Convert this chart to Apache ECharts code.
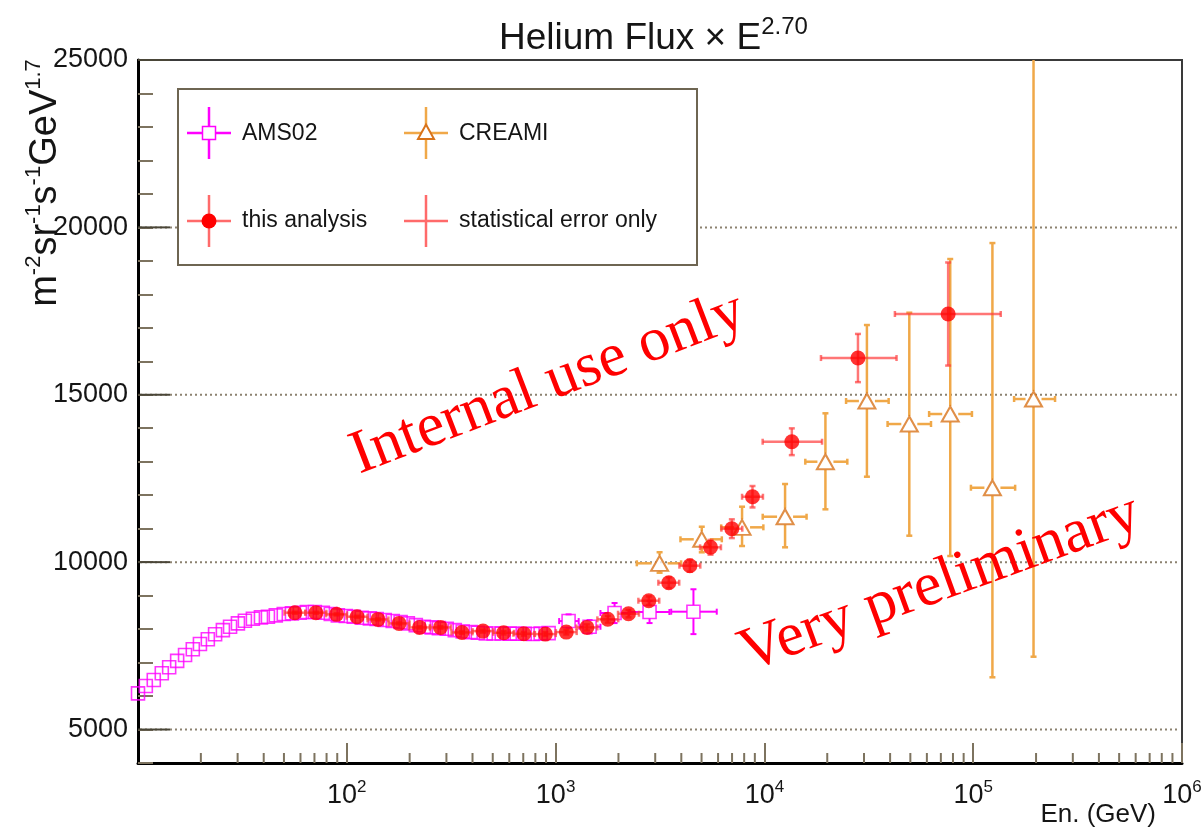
<!DOCTYPE html>
<html><head><meta charset="utf-8">
<script src="https://cdn.jsdelivr.net/npm/echarts@6/dist/echarts.min.js"></script>
<style>html,body{margin:0;padding:0;background:#fff}#c{width:1204px;height:832px}</style>
</head><body><div id="c"></div>
<script>
// ---------------- data ----------------
const amsEnergy = [10.0, 10.9, 11.9, 13.0, 14.1, 15.4, 16.8, 18.3, 19.8, 21.6, 23.4, 25.5, 27.6, 30.1, 32.5, 35.5, 38.8, 41.9, 45.7, 49.9,
  54.6, 59.6, 64.4, 70.3, 76.8, 83.8, 90.6, 98.9, 108, 118, 129, 139, 152, 166, 181, 196, 214, 234, 255, 276,
  301, 329, 359, 392, 424, 463, 505, 552, 603, 651, 711, 776, 848, 926, 1154, 1455, 1916, 2818, 4573];
const amsFlux = [6080, 6300, 6480, 6680, 6860, 7050, 7225, 7400, 7555, 7695, 7845, 7970, 8070, 8170, 8250, 8310, 8350, 8370, 8410, 8450,
  8470, 8490, 8510, 8510, 8490, 8450, 8410, 8390, 8370, 8340, 8320, 8300, 8270, 8240, 8210, 8170, 8120, 8070, 8050, 8030,
  8010, 7970, 7930, 7910, 7890, 7870, 7870, 7870, 7865, 7860, 7860, 7855, 7865, 7880, 8240, 8070, 8480, 8510, 8520];
const amsFluxErr = [10, 10, 10, 10, 10, 10, 10, 10, 10, 10, 10, 10, 10, 10, 10, 10, 10, 10, 10, 10,
  10, 10, 10, 10, 10, 10, 10, 10, 10, 10, 10, 10, 10, 10, 10, 10, 10, 10, 10, 10,
  10, 10, 10, 10, 10, 10, 10, 10, 10, 20, 20, 30, 40, 60, 200, 200, 300, 330, 670];
const amsEnergyLow  = {1154: 1040, 1455: 1300, 1916: 1640, 2818: 2259, 4573: 3578};
const amsEnergyHigh = {1154: 1290, 1455: 1640, 1916: 2250, 2818: 3508, 4573: 5913};

const thisEnergy = [56.4, 71.1, 89.3, 112, 141, 178, 223, 281, 356, 449, 564, 705, 893, 1125, 1412, 1778, 2234, 2795, 3484, 4395,
  5520, 6983, 8770, 13530, 28060, 75860];
const thisFlux = [8490, 8490, 8440, 8370, 8290, 8170, 8050, 8050, 7900, 7940, 7890, 7860, 7850, 7910, 8050, 8292, 8460, 8848, 9386, 9894,
  10443, 10999, 11954, 13597, 16097, 17412];
const thisFluxErr = [30, 30, 30, 30, 30, 30, 35, 35, 40, 45, 50, 55, 60, 70, 90, 100, 110, 130, 160, 180,
  220, 280, 320, 400, 720, 1540];
const thisEnergyLow = [50.3, 63.4, 79.6, 99.8, 125.7, 158.6, 198.7, 250.4, 317.3, 400.2, 502.7, 628.3, 795.9, 1003, 1258, 1585, 1991, 2491, 3105, 3917,
  4920, 6224, 7816, 9810, 18660, 42170];
const thisEnergyHigh = [63.3, 79.8, 100.2, 125.7, 158.2, 199.7, 250.2, 315.3, 399.4, 503.8, 632.8, 791.0, 1002, 1262, 1584, 1995, 2507, 3136, 3909, 4931,
  6193, 7835, 9840, 18880, 42940, 135500];

const creamEnergy = [3148, 5012, 7816, 12560, 19600, 30970, 49430, 77620, 123600, 194500];
const creamFlux = [9965, 10682, 11040, 11357, 13000, 14813, 14126, 14425, 12223, 14873];
const creamFluxLow = [9684, 10294, 10482, 10443, 11578, 12552, 10790, 10183, 6560, 7175];
const creamFluxHigh = [10296, 11058, 11656, 12334, 14446, 17083, 17451, 19055, 19532, 27000];
const creamEnergyLow = [2449, 3963, 6209, 9816, 15700, 24610, 38900, 61500, 97520, 157000];
const creamEnergyHigh = [3990, 6252, 9886, 15920, 24950, 39360, 62790, 98620, 158800, 246600];

const yGridValues = [5000, 10000, 15000, 20000];
const yMajorTicks = [5000, 10000, 15000, 20000, 25000];
const xDecades = [10, 100, 1000, 10000, 100000];
const xMinorMultipliers = [2, 3, 4, 5, 6, 7, 8, 9];

const X_MIN = 10, X_MAX = 1e6, Y_MIN = 4000, Y_MAX = 25000;

// ---------------- build tables ----------------
const amsTable = amsEnergy.map((e, i) => [e, amsFlux[i],
  amsEnergyLow[e] !== undefined ? amsEnergyLow[e] : e,
  amsEnergyHigh[e] !== undefined ? amsEnergyHigh[e] : e,
  amsFlux[i] - amsFluxErr[i], amsFlux[i] + amsFluxErr[i]]);
const thisTable = thisEnergy.map((e, i) => [e, thisFlux[i], thisEnergyLow[i], thisEnergyHigh[i],
  thisFlux[i] - thisFluxErr[i], thisFlux[i] + thisFluxErr[i]]);
const creamTable = creamEnergy.map((e, i) => [e, creamFlux[i], creamEnergyLow[i], creamEnergyHigh[i],
  creamFluxLow[i], creamFluxHigh[i]]);
const xMinorTicks = [];
xDecades.forEach(d => xMinorMultipliers.forEach(m => xMinorTicks.push(d * m)));

function makeErrorRender(color, lineWidth, gap, cap, opacity) {
  return function (params, api) {
    const e = api.value(0), f = api.value(1);
    const eLo = api.value(2), eHi = api.value(3);
    const fLo = api.value(4), fHi = api.value(5);
    const c = api.coord([e, f]);
    const xl = api.coord([eLo, f])[0], xh = api.coord([eHi, f])[0];
    const clippedTop = fHi > Y_MAX;
    const yl = api.coord([e, Math.max(fLo, Y_MIN)])[1];
    const yh = api.coord([e, Math.min(fHi, Y_MAX)])[1];
    const ch = [];
    function seg(x1, y1, x2, y2) {
      ch.push({type: 'line', shape: {x1, y1, x2, y2}, style: {stroke: color, lineWidth: lineWidth, opacity: opacity}});
    }
    if (c[0] - xl > gap) { seg(xl, c[1], c[0] - gap, c[1]); seg(xl, c[1] - cap, xl, c[1] + cap); }
    if (xh - c[0] > gap) { seg(c[0] + gap, c[1], xh, c[1]); seg(xh, c[1] - cap, xh, c[1] + cap); }
    if (yl - c[1] > gap) { seg(c[0], c[1] + gap, c[0], yl); seg(c[0] - cap, yl, c[0] + cap, yl); }
    if (c[1] - yh > gap) { seg(c[0], yh, c[0], c[1] - gap); if (!clippedTop) seg(c[0] - cap, yh, c[0] + cap, yh); }
    return {type: 'group', children: ch};
  };
}

const tickColor = '#7d735f';
const textColor = '#151515';

// ---------------- legend graphics ----------------
function cross(cx, cy, color) {
  return [
    {type: 'line', shape: {x1: cx - 22, y1: cy, x2: cx + 22, y2: cy}, style: {stroke: color, lineWidth: 2.5}, z: 11},
    {type: 'line', shape: {x1: cx, y1: cy - 26, x2: cx, y2: cy + 26}, style: {stroke: color, lineWidth: 2.5}, z: 11}
  ];
}
function legendText(x, y, t) {
  return {type: 'text', x: x, y: y, z: 12, style: {text: t, fill: textColor, font: '23px "Liberation Sans", Arial, sans-serif', textAlign: 'left', textVerticalAlign: 'middle'}};
}
const legendGraphics = [
  {type: 'rect', shape: {x: 178, y: 89, width: 519, height: 176}, style: {fill: '#fff', stroke: '#6e6552', lineWidth: 2}, z: 10},
  ...cross(209, 133, '#ff00ff'),
  {type: 'rect', shape: {x: 202.5, y: 126.5, width: 13, height: 13}, style: {fill: '#fff', stroke: '#ff00ff', lineWidth: 1.5}, z: 12},
  legendText(242, 134, 'AMS02'),
  ...cross(426, 133, '#f0a848'),
  {type: 'polygon', shape: {points: [[426, 124.5], [434, 139], [418, 139]]}, style: {fill: '#fff', stroke: '#d8731a', lineWidth: 2}, z: 12},
  legendText(459, 134, 'CREAMI'),
  ...cross(209, 221, '#ff6a6a'),
  {type: 'circle', shape: {cx: 209, cy: 221, r: 7.5}, style: {fill: '#ff0000'}, z: 12},
  legendText(242, 221, 'this analysis'),
  ...cross(426, 221, '#ff6a6a'),
  legendText(459, 221, 'statistical error only')
];

const otherGraphics = [
  {type: 'text', x: 499, y: 36, z: 30, style: {
    text: '{b|Helium Flux × E}{s|2.70}',
    textAlign: 'left', textVerticalAlign: 'middle',
    rich: {
      b: {fontSize: 37, fontFamily: '"Liberation Sans", Arial, sans-serif', fill: textColor, lineHeight: 42, verticalAlign: 'bottom'},
      s: {fontSize: 24, fontFamily: '"Liberation Sans", Arial, sans-serif', fill: textColor, lineHeight: 26, verticalAlign: 'top'}
    }
  }},
  {type: 'text', x: 44, y: 183, rotation: Math.PI / 2, z: 30, style: {
    text: '{b|m}{s|-2}{b|sr}{s|-1}{b|s}{s|-1}{b|GeV}{s|1.7}',
    textAlign: 'center', textVerticalAlign: 'middle',
    rich: {
      b: {fontSize: 38, fontFamily: '"Liberation Sans", Arial, sans-serif', fill: textColor, lineHeight: 42, verticalAlign: 'bottom'},
      s: {fontSize: 22, fontFamily: '"Liberation Sans", Arial, sans-serif', fill: textColor, lineHeight: 24, verticalAlign: 'top'}
    }
  }},
  {type: 'text', x: 1156, y: 815, z: 30, style: {text: 'En. (GeV)', fill: textColor, font: '26px "Liberation Sans", Arial, sans-serif', textAlign: 'right', textVerticalAlign: 'middle'}},
  {type: 'text', x: 548, y: 384, rotation: 21 * Math.PI / 180, z: 40, style: {text: 'Internal use only', fill: '#ff0000', font: '62px "Liberation Serif", "Times New Roman", serif', textAlign: 'center', textVerticalAlign: 'middle'}},
  {type: 'text', x: 940, y: 584, rotation: 20 * Math.PI / 180, z: 40, style: {text: 'Very preliminary', fill: '#ff0000', font: '62px "Liberation Serif", "Times New Roman", serif', textAlign: 'center', textVerticalAlign: 'middle'}}
];

const chart = echarts.init(document.getElementById('c'), null, {renderer: 'canvas'});
chart.setOption({
  animation: false,
  backgroundColor: '#fff',
  grid: {left: 138, right: 22, top: 60, bottom: 69, show: true, borderColor: '#3a3a3a', borderWidth: 2, containLabel: false, outerBoundsMode: 'none'},
  xAxis: {
    type: 'log', logBase: 10, min: X_MIN, max: X_MAX,
    axisLine: {show: true, onZero: false, lineStyle: {color: '#000', width: 3}},
    axisTick: {show: true, inside: true, length: 20, lineStyle: {color: tickColor, width: 2}},
    splitLine: {show: false},
    axisLabel: {
      showMinLabel: false, margin: 16,
      formatter: v => '{b|10}{s|' + Math.round(Math.log10(v)) + '}',
      rich: {
        b: {fontSize: 27, fontFamily: '"Liberation Sans", Arial, sans-serif', color: textColor, lineHeight: 30, verticalAlign: 'bottom'},
        s: {fontSize: 17, fontFamily: '"Liberation Sans", Arial, sans-serif', color: textColor, lineHeight: 16, verticalAlign: 'top'}
      }
    }
  },
  yAxis: {
    type: 'value', min: Y_MIN, max: Y_MAX, interval: 1000,
    axisLine: {show: true, onZero: false, lineStyle: {color: '#000', width: 3}},
    axisTick: {show: true, inside: true, length: 15, lineStyle: {color: tickColor, width: 2}},
    splitLine: {show: false},
    axisLabel: {
      margin: 10, fontSize: 27, fontFamily: '"Liberation Sans", Arial, sans-serif', color: textColor,
      formatter: v => (v % 5000 === 0 ? String(v) : '')
    }
  },
  graphic: legendGraphics.concat(otherGraphics),
  series: [
    {
      type: 'custom', name: 'gridY', silent: true, z: 1,
      data: yGridValues.map(v => [X_MIN, v]),
      renderItem: function (params, api) {
        const v = api.value(1);
        const a = api.coord([X_MIN, v]), b = api.coord([X_MAX, v]);
        return {type: 'group', children: [
          {type: 'line', shape: {x1: a[0] + 2, y1: a[1], x2: b[0] - 2, y2: b[1]}, style: {stroke: '#8c8270', lineWidth: 2, lineDash: [2, 3]}},
          {type: 'line', shape: {x1: a[0], y1: a[1], x2: a[0] + 32, y2: a[1]}, style: {stroke: '#4a4638', lineWidth: 2}}
        ]};
      }
    },
    {
      type: 'custom', name: 'majorY', silent: true, z: 1,
      data: yMajorTicks.slice(-1).map(v => [X_MIN, v]),
      renderItem: function (params, api) {
        const v = api.value(1);
        const a = api.coord([X_MIN, v]);
        return {type: 'line', shape: {x1: a[0], y1: a[1], x2: a[0] + 32, y2: a[1]}, style: {stroke: '#4a4638', lineWidth: 2}};
      }
    },
    {
      type: 'custom', name: 'minorX', silent: true, z: 1,
      data: xMinorTicks.map(v => [v, Y_MIN]),
      renderItem: function (params, api) {
        const p = api.coord([api.value(0), Y_MIN]);
        return {type: 'line', shape: {x1: p[0], y1: p[1], x2: p[0], y2: p[1] - 10}, style: {stroke: tickColor, lineWidth: 2}};
      }
    },
    {
      type: 'custom', name: 'AMS02 errors', silent: true, z: 3,
      data: amsTable, encode: {x: 0, y: 1},
      renderItem: makeErrorRender('#ff00ff', 2, 6.5, 3, 1)
    },
    {
      type: 'scatter', name: 'AMS02', z: 4, symbol: 'rect', symbolSize: 13,
      data: amsTable.map(r => [r[0], r[1]]),
      itemStyle: {color: 'rgba(255,255,255,0)', borderColor: '#ff00ff', borderWidth: 1.6}
    },
    {
      type: 'custom', name: 'CREAMI errors', silent: true, z: 5,
      data: creamTable, encode: {x: 0, y: 1},
      renderItem: makeErrorRender('#f0a848', 2.5, 8, 3, 1)
    },
    {
      type: 'scatter', name: 'CREAMI', z: 6, symbol: 'triangle', symbolSize: [17, 15],
      data: creamTable.map(r => [r[0], r[1]]),
      itemStyle: {color: '#fff', borderColor: '#d8731a', borderWidth: 2}
    },
    {
      type: 'custom', name: 'this analysis errors', silent: true, z: 7,
      data: thisTable, encode: {x: 0, y: 1},
      renderItem: makeErrorRender('#ff3c3c', 2.5, 0, 3, 0.7)
    },
    {
      type: 'scatter', name: 'this analysis', z: 8, symbol: 'circle', symbolSize: 15,
      data: thisTable.map(r => [r[0], r[1]]),
      itemStyle: {color: '#ff0000'}
    }
  ]
});
</script></body></html>
